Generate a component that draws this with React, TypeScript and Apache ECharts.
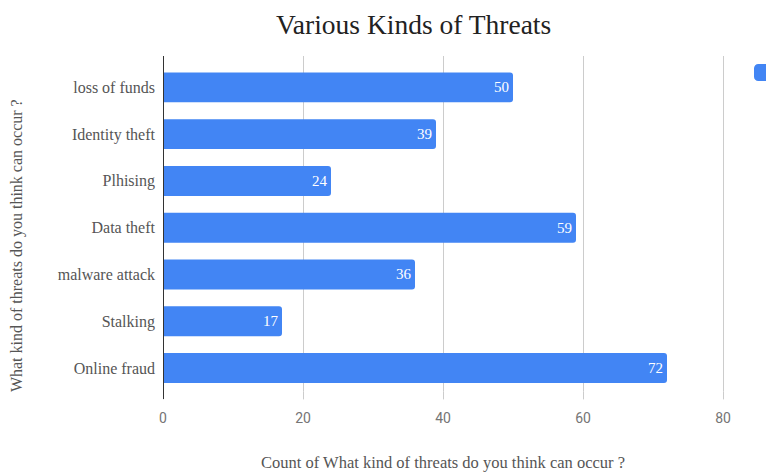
import React, { useEffect, useRef } from "react";
import * as echarts from "echarts";

const categories = [
  "loss of funds",
  "Identity theft",
  "Plhising",
  "Data theft",
  "malware attack",
  "Stalking",
  "Online fraud",
];
const counts = [50, 39, 24, 59, 36, 17, 72];
const xTicks = { min: 0, max: 80, interval: 20 };
const titleText = "Various Kinds of Threats";
const seriesName = "Count of What kind of threats do you think can occur ?";
const yName = "What kind of threats do you think can occur ?";

const SERIF = "'Liberation Serif', 'DejaVu Serif', serif";
const SANS = "Roboto, 'Noto Sans', sans-serif";

export default function App() {
  const ref = useRef<HTMLDivElement>(null);
  useEffect(() => {
    if (!ref.current) return;
    const chart = echarts.init(ref.current, undefined, { renderer: "svg" });
    chart.setOption({
      animation: false,
      backgroundColor: "#ffffff",
      title: {
        text: titleText,
        left: 271,
        top: 5,
        textStyle: { fontFamily: SERIF, fontSize: 27.5, fontWeight: "normal", color: "#222" },
      },
      legend: {
        left: 749,
        top: 59,
        itemWidth: 17,
        itemHeight: 17,
        icon: "roundRect",
        formatter: () => "",
        data: [seriesName],
      },
      grid: {
        left: 163,
        right: 43,
        top: 64,
        bottom: 80.6,
        containLabel: false,
        outerBoundsMode: "none",
      },
      xAxis: [
        {
          type: "value",
          min: xTicks.min,
          max: xTicks.max,
          interval: xTicks.interval,
          name: seriesName,
          nameLocation: "middle",
          nameGap: 63,
          nameTextStyle: { fontFamily: SERIF, fontSize: 16.5, color: "#555" },
          axisLine: { show: false },
          axisTick: { show: true, length: 8, lineStyle: { color: "#cccccc" } },
          axisLabel: { margin: 20, fontFamily: SANS, fontSize: 14, color: "#757575" },
          splitLine: { show: true, lineStyle: { color: "#cccccc", width: 1 } },
        },
        {
          type: "value",
          position: "top",
          min: xTicks.min,
          max: xTicks.max,
          interval: xTicks.interval,
          axisLine: { show: false },
          axisTick: { show: true, length: 8, lineStyle: { color: "#cccccc" } },
          axisLabel: { show: false },
          splitLine: { show: false },
        },
      ],
      yAxis: {
        type: "category",
        inverse: true,
        data: categories,
        name: yName,
        nameLocation: "middle",
        nameGap: 139,
        nameTextStyle: { fontFamily: SERIF, fontSize: 16, color: "#555", padding: [0, 36, 0, 0] },
        axisLine: { show: true, lineStyle: { color: "#333333", width: 1 } },
        axisTick: { show: false },
        axisLabel: { margin: 8, fontFamily: SERIF, fontSize: 16, color: "#555" },
      },
      graphic: [
        {
          type: "line",
          shape: { x1: 163.5, y1: 56, x2: 163.5, y2: 399 },
          style: { stroke: "#333333", lineWidth: 1 },
          z: 10,
        },
      ],
      series: [
        {
          name: seriesName,
          type: "bar",
          data: counts,
          xAxisIndex: 0,
          barCategoryGap: "36%",
          itemStyle: { color: "#4285F4", borderRadius: [0, 3, 3, 0] },
          label: {
            show: true,
            position: "insideRight",
            distance: 4,
            color: "#ffffff",
            fontFamily: SERIF,
            fontSize: 15,
          },
        },
      ],
    });
    return () => chart.dispose();
  }, []);
  return (
    <div
      ref={ref}
      style={{ position: "fixed", left: 0, top: 0, width: 766, height: 472 }}
    />
  );
}
